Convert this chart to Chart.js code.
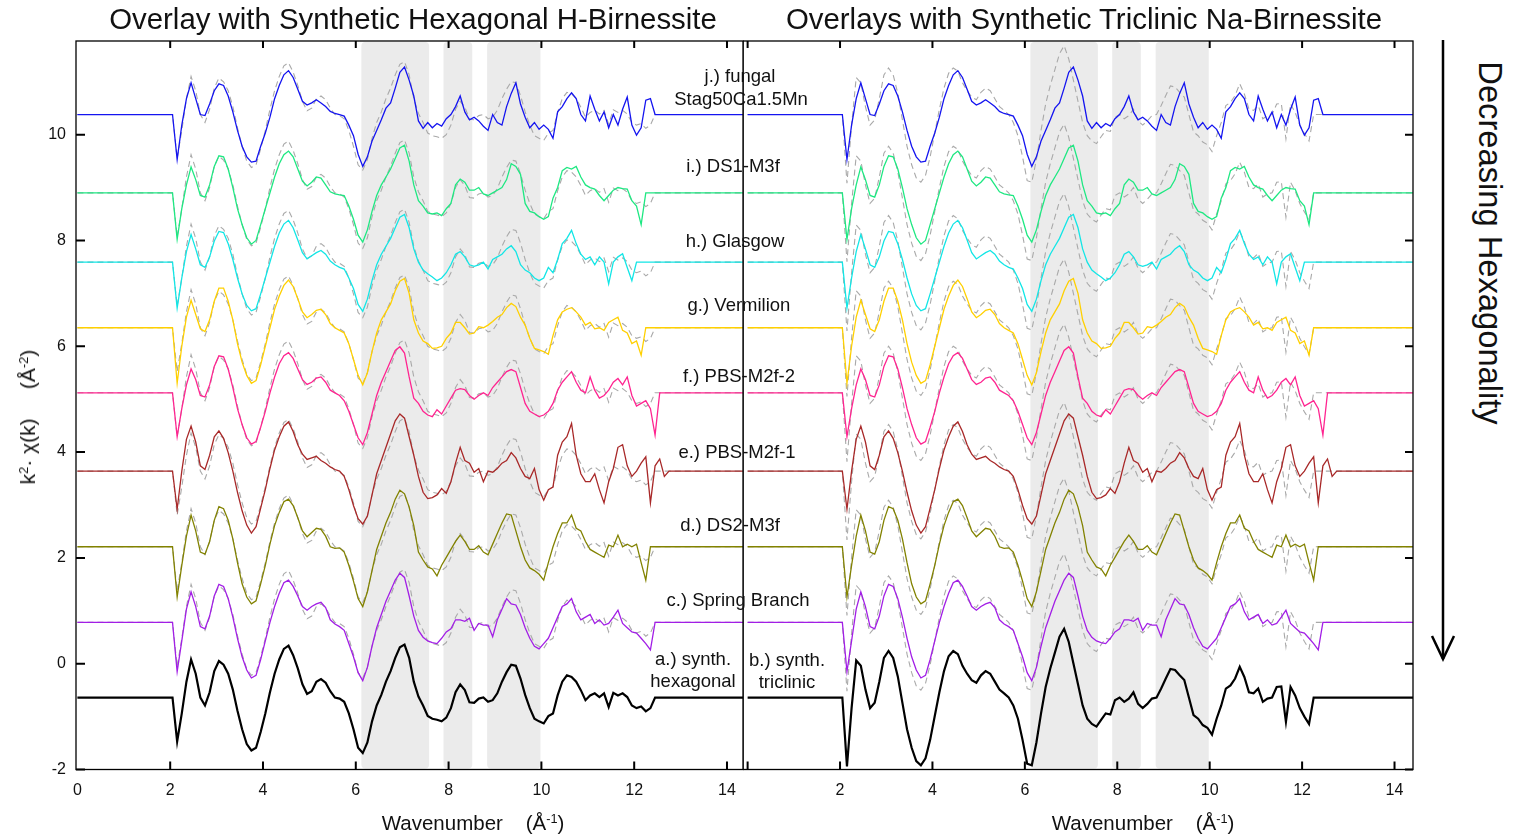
<!DOCTYPE html>
<html>
<head>
<meta charset="utf-8">
<script src="https://cdn.jsdelivr.net/npm/chart.js@4.4.1/dist/chart.umd.min.js"></script>
<style>
  body { margin: 0; background: #fff; font-family: "Liberation Sans", Arial, sans-serif; color: #111; }
  #wrap { position: relative; width: 1516px; height: 839px; overflow: hidden; }
  #leftBox { position: absolute; left: 0; top: 0; width: 745px; height: 839px; }
  #rightBox { position: absolute; left: 743px; top: 0; width: 671px; height: 839px; }
  .t { position: absolute; transform: translate(-50%, -50%); white-space: nowrap; font-size: 18.5px; text-align: center; }
  .title { font-size: 29.4px; }
  .axt { font-size: 20.5px; }
  sup { font-size: 0.62em; vertical-align: 0.55em; line-height: 0; }
  #arrow { position: absolute; left: 1430px; top: 38px; }
</style>
</head>
<body>
<div id="wrap">
  <div id="leftBox"><canvas id="leftChart" width="745" height="839"></canvas></div>
  <div id="rightBox"><canvas id="rightChart" width="671" height="839"></canvas></div>

  <div class="t title" style="left:413px;top:19px">Overlay with Synthetic Hexagonal H-Birnessite</div>
  <div class="t title" style="left:1084px;top:19px">Overlays with Synthetic Triclinic Na-Birnessite</div>

  <div class="t axt" style="left:473px;top:823px">Wavenumber &nbsp;&nbsp;&nbsp;(Å<sup>-1</sup>)</div>
  <div class="t axt" style="left:1143px;top:823px">Wavenumber &nbsp;&nbsp;&nbsp;(Å<sup>-1</sup>)</div>
  <div class="t axt" style="left:28px;top:417px;font-size:21px;transform:translate(-50%,-50%) rotate(-90deg)">k<sup>2</sup>· χ(k) &nbsp;&nbsp;&nbsp;&nbsp;(Å<sup>-2</sup>)</div>

  <div class="t" style="left:740px;top:76px">j.) fungal</div>
  <div class="t" style="left:741px;top:99px">Stag50Ca1.5Mn</div>
  <div class="t" style="left:733px;top:166px">i.) DS1-M3f</div>
  <div class="t" style="left:735px;top:241px">h.) Glasgow</div>
  <div class="t" style="left:739px;top:305px">g.) Vermilion</div>
  <div class="t" style="left:739px;top:376px">f.) PBS-M2f-2</div>
  <div class="t" style="left:737px;top:452px">e.) PBS-M2f-1</div>
  <div class="t" style="left:730px;top:525px">d.) DS2-M3f</div>
  <div class="t" style="left:738px;top:600px">c.) Spring Branch</div>
  <div class="t" style="left:693px;top:659px">a.) synth.</div>
  <div class="t" style="left:693px;top:681px">hexagonal</div>
  <div class="t" style="left:787px;top:660px">b.) synth.</div>
  <div class="t" style="left:787px;top:682px">triclinic</div>

  <div class="t" style="left:1490px;top:243px;font-size:32.7px;transform:translate(-50%,-50%) rotate(90deg)">Decreasing Hexagonality</div>
  <svg id="arrow" width="30" height="630">
    <line x1="13" y1="2" x2="13" y2="621" stroke="#000" stroke-width="2.5"/>
    <polyline points="2,598 13,621 24,598" fill="none" stroke="#000" stroke-width="2.5"/>
  </svg>
</div>

<script>
// wavenumber grid (Å^-1)
const K = [
  0,
  2.05, 2.15, 2.25, 2.35, 2.45, 2.55, 2.65, 2.75, 2.85, 2.95,
  3.05, 3.15, 3.25, 3.35, 3.45, 3.55, 3.65, 3.75, 3.85, 3.95,
  4.05, 4.15, 4.25, 4.35, 4.45, 4.55, 4.65, 4.75, 4.85, 4.95,
  5.05, 5.15, 5.25, 5.35, 5.45, 5.55, 5.65, 5.75, 5.85, 5.95,
  6.05, 6.15, 6.25, 6.35, 6.45, 6.55, 6.65, 6.75, 6.85, 6.95,
  7.05, 7.15, 7.25, 7.35, 7.45, 7.55, 7.65, 7.75, 7.85, 7.95,
  8.05, 8.15, 8.25, 8.35, 8.45, 8.55, 8.65, 8.75, 8.85, 8.95,
  9.05, 9.15, 9.25, 9.35, 9.45, 9.55, 9.65, 9.75, 9.85, 9.95,
  10.05, 10.15, 10.25, 10.35, 10.45, 10.55, 10.65, 10.75, 10.85, 10.95,
  11.05, 11.15, 11.25, 11.35, 11.45, 11.55, 11.65, 11.75, 11.85, 11.95,
  12.05, 12.15, 12.25, 12.35, 12.45, 12.55, 12.65, 12.75,
  14.4
];

// a.) synthetic hexagonal H-birnessite
const HEX_REF = [
  0,
  0, -0.83, -0.3, 0.3, 0.72, 0.45, 0.0, -0.15, 0.1, 0.5,
  0.69, 0.62, 0.45, 0.15, -0.25, -0.6, -0.88, -1.0, -0.95, -0.65,
  -0.3, 0.1, 0.45, 0.72, 0.92, 0.98, 0.8, 0.55, 0.25, 0.07,
  0.12, 0.3, 0.35, 0.28, 0.12, 0.0, -0.02, -0.08, -0.3, -0.6,
  -0.95, -1.05, -0.85, -0.45, -0.15, 0.05, 0.3, 0.5, 0.75, 0.95,
  1.0, 0.75, 0.3, 0.02, -0.15, -0.35, -0.4, -0.42, -0.45, -0.38,
  -0.2, 0.1, 0.25, 0.14, -0.09, -0.1, -0.02, 0.0, -0.08, -0.05,
  0.08, 0.3, 0.48, 0.62, 0.6, 0.36, 0.05, -0.2, -0.4, -0.45,
  -0.49, -0.35, -0.3, 0.04, 0.3, 0.42, 0.39, 0.3, 0.14, -0.05,
  0.04, 0.08, 0.01, 0.08, -0.18, 0.09, 0.04, 0.08, 0.01, -0.15,
  -0.2, -0.17, -0.26, -0.2, 0, 0, 0, 0,
  0
];

// b.) synthetic triclinic Na-birnessite
const TRI_REF = [
  0,
  0, -1.3, -0.2, 0.7, 0.6, 0.15, -0.2, -0.1, 0.3, 0.75,
  0.88, 0.75, 0.4, -0.1, -0.6, -0.95, -1.2, -1.28, -1.15, -0.8,
  -0.35, 0.1, 0.5, 0.78, 0.88, 0.82, 0.6, 0.45, 0.33, 0.28,
  0.42, 0.5, 0.45, 0.3, 0.15, 0.08, 0.0, -0.15, -0.4, -0.8,
  -1.25, -1.28, -0.85, -0.3, 0.2, 0.55, 0.85, 1.15, 1.3, 1.05,
  0.65, 0.25, -0.15, -0.4, -0.5, -0.55, -0.42, -0.3, -0.32, -0.05,
  0.0, -0.08, -0.02, 0.1, -0.12, -0.2, -0.12, -0.02, 0.0, 0.17,
  0.36, 0.54, 0.52, 0.42, 0.33, 0.0, -0.33, -0.4, -0.52, -0.57,
  -0.7, -0.4, -0.15, 0.17, 0.23, 0.36, 0.58, 0.39, 0.1, 0.08,
  0.17, -0.08, -0.02, 0.0, 0.2, 0.21, -0.46, 0.2, 0.04, -0.2,
  -0.36, -0.5, 0, 0, 0, 0, 0, 0,
  0
];

// j.) fungal Stag50Ca1.5Mn
const FUNGAL = [
  0,
  0, -0.85, -0.2, 0.3, 0.6, 0.3, 0.0, -0.02, 0.2, 0.45,
  0.58, 0.55, 0.35, 0.05, -0.3, -0.6, -0.8, -0.9, -0.88, -0.6,
  -0.35, -0.05, 0.3, 0.55, 0.75, 0.83, 0.7, 0.48, 0.25, 0.18,
  0.22, 0.28, 0.22, 0.15, 0.06, 0.02, 0.0, -0.03, -0.2, -0.4,
  -0.75, -0.98, -0.8, -0.5, -0.3, -0.1, 0.12, 0.22, 0.5, 0.8,
  0.9, 0.65, 0.35, -0.12, -0.26, -0.15, -0.25, -0.17, -0.22, -0.08,
  0.0, 0.15, 0.35, 0.05, -0.1, -0.05, -0.12, -0.22, -0.3, 0.0,
  -0.15, -0.2, 0.15, 0.4, 0.6, 0.2, -0.05, -0.25, -0.15, -0.28,
  -0.2, -0.28, -0.45, 0.05, 0.15, 0.3, 0.41, 0.3, 0.0, -0.12,
  0.35, 0.1, -0.12, 0.05, -0.25, 0.0, -0.2, 0.1, 0.33, -0.2,
  -0.39, -0.25, 0.27, 0.3, 0, 0, 0, 0,
  0
];

// i.) DS1-M3f
const DS1 = [
  0,
  0, -0.88, -0.3, 0.15, 0.49, 0.25, -0.05, -0.08, 0.15, 0.5,
  0.7, 0.68, 0.45, 0.1, -0.3, -0.6, -0.85, -0.97, -0.9, -0.6,
  -0.3, 0.0, 0.3, 0.55, 0.72, 0.79, 0.68, 0.45, 0.22, 0.13,
  0.2, 0.3, 0.28, 0.15, 0.02, -0.02, -0.04, -0.05, -0.25, -0.5,
  -0.8, -0.93, -0.7, -0.35, -0.05, 0.15, 0.3, 0.45, 0.65, 0.85,
  0.9, 0.6, 0.15, -0.15, -0.25, -0.38, -0.4, -0.38, -0.43, -0.3,
  -0.2, 0.15, 0.26, 0.2, 0.05, 0.05, 0.1, -0.02, -0.05, 0.0,
  0.05, 0.1, 0.25, 0.55, 0.5, 0.35, -0.2, -0.35, -0.38, -0.45,
  -0.5, -0.45, -0.1, 0.1, 0.42, 0.48, 0.45, 0.5, 0.3, 0.15,
  0.1, 0.07, -0.05, -0.15, -0.05, 0.05, 0.1, 0.08, 0.07, -0.15,
  -0.25, -0.6, 0, 0, 0, 0, 0, 0,
  0
];

// h.) Glasgow
const GLASGOW = [
  0,
  0, -0.87, -0.3, 0.2, 0.52, 0.25, -0.05, -0.1, 0.1, 0.4,
  0.58, 0.56, 0.35, 0.05, -0.3, -0.6, -0.82, -0.92, -0.88, -0.6,
  -0.3, 0.0, 0.3, 0.55, 0.72, 0.79, 0.65, 0.42, 0.18, 0.06,
  0.12, 0.18, 0.22, 0.15, 0.02, -0.05, -0.1, -0.13, -0.3, -0.5,
  -0.8, -0.93, -0.7, -0.35, -0.05, 0.15, 0.3, 0.45, 0.65, 0.85,
  0.9, 0.65, 0.25, 0.0, -0.15, -0.22, -0.28, -0.35, -0.3, -0.2,
  -0.05, 0.15, 0.2, 0.1, -0.05, -0.08, -0.05, 0.0, -0.13, 0.05,
  0.1, 0.15, 0.25, 0.31, 0.2, -0.05, -0.15, -0.2, -0.3, -0.35,
  -0.3, -0.1, -0.2, 0.05, 0.35, 0.45, 0.6, 0.35, 0.15, 0.05,
  0.1, -0.05, 0.1, 0.0, -0.41, 0.0, 0.1, 0.16, -0.1, -0.35,
  0, 0, 0, 0, 0, 0, 0, 0,
  0
];

// g.) Vermilion
const VERMILION = [
  0,
  0, -1.05, -0.35, 0.2, 0.52, 0.25, -0.02, -0.07, 0.15, 0.5,
  0.75, 0.75, 0.5, 0.15, -0.3, -0.65, -0.9, -1.05, -1.0, -0.7,
  -0.35, 0.0, 0.35, 0.6, 0.8, 0.9, 0.78, 0.55, 0.3, 0.19,
  0.25, 0.33, 0.35, 0.25, 0.08, 0.0, -0.05, -0.1, -0.3, -0.6,
  -0.9, -1.08, -0.85, -0.45, -0.1, 0.15, 0.3, 0.45, 0.7, 0.88,
  0.93, 0.65, 0.15, -0.1, -0.25, -0.3, -0.39, -0.38, -0.35, -0.2,
  -0.1, 0.1, 0.1, 0.0, -0.12, -0.1, 0.02, 0.0, 0.05, 0.12,
  0.2, 0.25, 0.38, 0.46, 0.4, 0.2, 0.05, -0.2, -0.39, -0.42,
  -0.45, -0.5, -0.15, 0.15, 0.3, 0.35, 0.38, 0.3, 0.2, 0.05,
  0.1, -0.02, 0.0, -0.05, 0.1, 0.15, 0.2, -0.05, -0.1, -0.3,
  -0.25, -0.52, 0, 0, 0, 0, 0, 0,
  0
];

// f.) PBS-M2f-2
const PBS2 = [
  0,
  0, -0.83, -0.3, 0.15, 0.45, 0.25, -0.05, -0.08, 0.15, 0.5,
  0.7, 0.68, 0.45, 0.1, -0.3, -0.6, -0.85, -0.97, -0.92, -0.65,
  -0.35, 0.0, 0.3, 0.55, 0.7, 0.76, 0.65, 0.45, 0.25, 0.16,
  0.2, 0.28, 0.3, 0.2, 0.05, 0.0, -0.05, -0.15, -0.35, -0.6,
  -0.85, -0.98, -0.75, -0.4, -0.05, 0.2, 0.4, 0.6, 0.8, 0.87,
  0.75, 0.3, -0.1, -0.2, -0.35, -0.42, -0.45, -0.32, -0.4, -0.25,
  -0.1, 0.05, 0.08, 0.06, -0.05, -0.12, -0.05, 0.0, -0.05, 0.1,
  0.2, 0.3, 0.4, 0.44, 0.4, 0.1, -0.2, -0.35, -0.4, -0.45,
  -0.42, -0.35, -0.2, 0.05, 0.2, 0.3, 0.4, 0.2, 0.05, 0.0,
  0.3, 0.05, -0.1, -0.05, 0.05, 0.2, 0.27, 0.15, 0.3, -0.05,
  -0.25, -0.2, -0.15, -0.3, -0.8, 0, 0, 0,
  0
];

// e.) PBS-M2f-1
const PBS1 = [
  0,
  0, -0.72, 0.0, 0.6, 0.85, 0.55, 0.1, 0.03, 0.3, 0.65,
  0.76, 0.62, 0.35, 0.0, -0.4, -0.75, -1.02, -1.17, -1.05, -0.7,
  -0.35, 0.05, 0.4, 0.65, 0.85, 0.93, 0.75, 0.5, 0.32, 0.22,
  0.25, 0.28, 0.2, 0.15, 0.08, 0.03, 0.0, -0.1, -0.35, -0.65,
  -0.9, -1.0, -0.85, -0.45, -0.05, 0.2, 0.45, 0.7, 0.95, 1.08,
  1.0, 0.65, 0.3, -0.1, -0.4, -0.52, -0.5, -0.45, -0.33, -0.42,
  -0.2, 0.15, 0.45, 0.2, 0.15, -0.02, 0.05, -0.2, 0.0, -0.02,
  0.05, 0.15, 0.2, 0.35, 0.25, 0.05, -0.1, -0.14, 0.05, -0.35,
  -0.55, -0.35, -0.3, 0.3, 0.55, 0.65, 0.9, 0.3, -0.05, -0.2,
  -0.2, -0.05, -0.35, -0.6, -0.2, 0.05, 0.45, 0.5, 0.1, -0.1,
  0.0, 0.15, 0.27, -0.6, 0.1, 0.23, -0.1, 0,
  0
];

// d.) DS2-M3f
const DS2 = [
  0,
  0, -0.95, -0.35, 0.2, 0.6, 0.3, -0.1, -0.14, 0.1, 0.5,
  0.76, 0.72, 0.5, 0.15, -0.3, -0.7, -0.95, -1.08, -1.02, -0.7,
  -0.35, 0.05, 0.4, 0.65, 0.85, 0.9, 0.78, 0.55, 0.3, 0.19,
  0.27, 0.35, 0.33, 0.2, 0.0, -0.03, -0.02, -0.1, -0.35, -0.65,
  -0.98, -1.13, -0.85, -0.45, -0.05, 0.2, 0.45, 0.65, 0.9, 1.07,
  1.0, 0.75, 0.4, -0.1, -0.25, -0.38, -0.42, -0.55, -0.35, -0.2,
  -0.05, 0.1, 0.22, 0.1, -0.05, -0.05, 0.02, -0.1, -0.15, 0.05,
  0.25, 0.45, 0.62, 0.6, 0.3, 0.0, -0.25, -0.4, -0.45, -0.52,
  -0.63, -0.3, 0.0, 0.25, 0.45, 0.45, 0.6, 0.35, 0.3, 0.1,
  -0.05, -0.1, -0.15, -0.2, 0.03, 0.0, 0.22, 0.0, 0.05, 0.0,
  0.05, -0.3, -0.63, 0, 0, 0, 0, 0,
  0
];

// c.) Spring Branch
const SPRING = [
  0,
  0, -0.93, -0.35, 0.25, 0.58, 0.3, -0.08, -0.12, 0.12, 0.5,
  0.72, 0.68, 0.45, 0.1, -0.3, -0.65, -0.9, -1.05, -1.0, -0.7,
  -0.35, 0.0, 0.3, 0.55, 0.75, 0.8, 0.68, 0.5, 0.3, 0.23,
  0.3, 0.35, 0.38, 0.28, 0.05, -0.03, -0.08, -0.15, -0.4, -0.65,
  -0.95, -1.1, -0.85, -0.45, -0.1, 0.15, 0.4, 0.6, 0.8, 0.93,
  0.85, 0.5, 0.12, -0.15, -0.28, -0.35, -0.38, -0.4, -0.3, -0.18,
  -0.12, 0.05, 0.05, 0.02, 0.08, -0.15, -0.02, -0.05, -0.05, -0.27,
  0.05, 0.25, 0.45, 0.35, 0.33, 0.15, -0.1, -0.3, -0.45, -0.5,
  -0.4, -0.3, -0.1, 0.1, 0.3, 0.35, 0.45, 0.2, 0.05, 0.1,
  0.15, -0.02, 0.05, -0.05, -0.02, 0.1, 0.23, -0.02, -0.1, -0.18,
  -0.2, -0.3, -0.4, -0.52, 0, 0, 0, 0,
  0
];

const SAMPLES = [FUNGAL, DS1, GLASGOW, VERMILION, PBS2, PBS1, DS2, SPRING];
const OFFSETS = [10.38, 8.90, 7.59, 6.35, 5.12, 3.64, 2.21, 0.78];
const REF_OFFSET = -0.64;
const COLORS = ['#1414f0', '#1ee882', '#12e6e6', '#ffd000', '#ff2490', '#a82828', '#828200', '#a21ee6'];

const BANDS = [[6.12, 7.58], [7.89, 8.51], [8.83, 9.98]];
const X_TICKS_LEFT = [0, 2, 4, 6, 8, 10, 12, 14];
const X_TICKS_RIGHT = [2, 4, 6, 8, 10, 12, 14];
const Y_TICKS = [-2, 0, 2, 4, 6, 8, 10];

function series(dev, off) {
  return K.map((k, i) => ({ x: k, y: off + dev[i] }));
}

function buildDatasets(ref) {
  const ds = [];
  SAMPLES.forEach((dev, n) => {
    ds.push({ data: series(ref, OFFSETS[n]), borderColor: '#a9a9a9', borderWidth: 1.1, borderDash: [6, 4], order: 2 });
    ds.push({ data: series(dev, OFFSETS[n]), borderColor: COLORS[n], borderWidth: 1.3, order: 1 });
  });
  ds.push({ data: series(ref, REF_OFFSET), borderColor: '#000', borderWidth: 2.2, order: 0 });
  return ds;
}

// grey bands + frame with inward ticks
const frame = {
  id: 'frame',
  beforeDatasetsDraw(chart) {
    const { ctx, chartArea: a, scales: { x } } = chart;
    ctx.save();
    ctx.fillStyle = '#ebebeb';
    BANDS.forEach(([lo, hi]) => {
      const x0 = x.getPixelForValue(lo), x1 = x.getPixelForValue(hi);
      ctx.beginPath();
      ctx.roundRect(x0, a.top + 1, x1 - x0, a.bottom - a.top - 2, 4);
      ctx.fill();
    });
    ctx.restore();
  },
  afterDatasetsDraw(chart, args, opts) {
    const { ctx, chartArea: a, scales: { x, y } } = chart;
    ctx.save();
    ctx.strokeStyle = '#000';
    ctx.lineWidth = 1.3;
    ctx.strokeRect(a.left, a.top, a.right - a.left, a.bottom - a.top);
    ctx.lineWidth = 2;
    ctx.beginPath();
    [0, 2, 4, 6, 8, 10, 12, 14].forEach(v => {
      const px = x.getPixelForValue(v);
      if (px > a.left + 2 && px < a.right - 2) {
        ctx.moveTo(px, a.top); ctx.lineTo(px, a.top + 7);
        ctx.moveTo(px, a.bottom); ctx.lineTo(px, a.bottom - 8);
      }
    });
    Y_TICKS.forEach(v => {
      const py = y.getPixelForValue(v);
      const x0 = opts.side === 'left' ? a.left : a.right;
      const d = opts.side === 'left' ? 9 : -8;
      ctx.moveTo(x0, py); ctx.lineTo(x0 + d, py);
    });
    ctx.stroke();
    ctx.restore();
  }
};

function makeChart(id, ref, side, xMin, xMax, xTicks, yWidth, padRight) {
  return new Chart(document.getElementById(id), {
    type: 'line',
    data: { datasets: buildDatasets(ref) },
    options: {
      responsive: false,
      animation: false,
      devicePixelRatio: 1,
      layout: { padding: { top: 41, right: padRight, left: 0, bottom: 0 } },
      elements: { point: { radius: 0 }, line: { tension: 0 } },
      plugins: { legend: { display: false }, tooltip: { enabled: false }, frame: { side: side } },
      scales: {
        x: {
          type: 'linear', min: xMin, max: xMax,
          grid: { display: false, drawTicks: false }, border: { display: false },
          afterBuildTicks: s => { s.ticks = xTicks.map(v => ({ value: v })); },
          afterFit: s => { s.height = 69.5; s.paddingLeft = 0; s.paddingRight = 0; },
          ticks: { padding: 11, color: '#111', maxRotation: 0, autoSkip: false,
                   font: { family: 'Liberation Sans', size: 16 } }
        },
        y: {
          type: 'linear', min: -2, max: 11.77, position: side,
          grid: { display: false, drawTicks: false }, border: { display: false },
          afterBuildTicks: s => { s.ticks = Y_TICKS.map(v => ({ value: v })); },
          afterFit: s => { s.width = yWidth; s.paddingTop = 0; s.paddingBottom = 0; },
          ticks: { display: side === 'left', padding: 10, color: '#111',
                   font: { family: 'Liberation Sans', size: 16 } }
        }
      }
    },
    plugins: [frame]
  });
}

makeChart('leftChart', HEX_REF, 'left', -0.03, 14.345, X_TICKS_LEFT, 76, 2);
makeChart('rightChart', TRI_REF, 'right', -0.1, 14.4, X_TICKS_RIGHT, 1, 0);
</script>
</body>
</html>
